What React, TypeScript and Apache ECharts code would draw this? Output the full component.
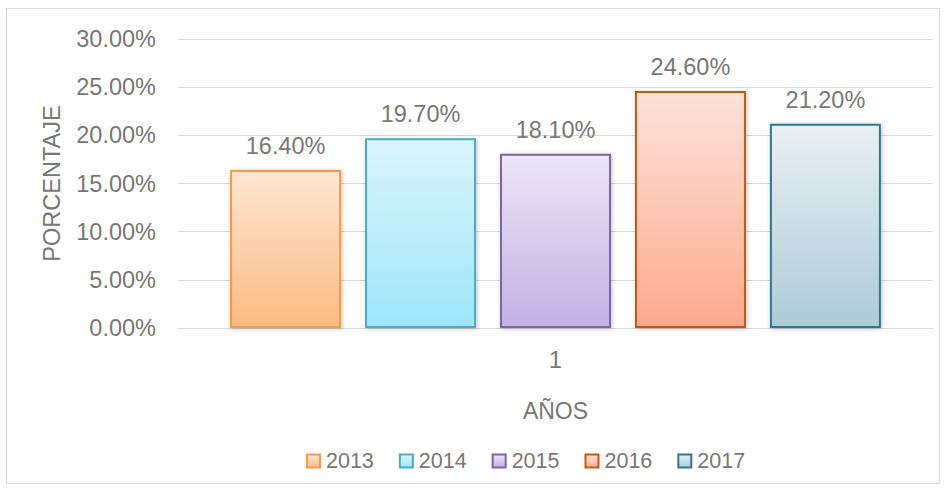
import React, { useEffect, useRef } from "react";
import * as echarts from "echarts";

const categories = ["1"];
const years = ["2013", "2014", "2015", "2016", "2017"];
const values = [0.164, 0.197, 0.181, 0.246, 0.212];
const yTicks = { min: 0, max: 0.3, interval: 0.05 };

const topColors = ["#fde6d4", "#dcf5fc", "#ede6f6", "#fde3dc", "#e9f0f5"];
const bottomColors = ["#fbbb82", "#9ee6fa", "#c3b0e3", "#fcaa8f", "#adcbd6"];
const borderColors = ["#f59a48", "#4bacc6", "#8064a2", "#c55a11", "#31788c"];

const FONT = "Liberation Sans, Arial, sans-serif";
const TEXT = "#777777";

export default function App() {
  const ref = useRef<HTMLDivElement>(null);
  useEffect(() => {
    if (!ref.current) return;
    const chart = echarts.init(ref.current, undefined, { renderer: "svg" });
    chart.setOption({
      animation: false,
      backgroundColor: "#ffffff",
      textStyle: { fontFamily: FONT },
      graphic: [
        {
          type: "rect",
          shape: { x: 6.5, y: 8.5, width: 933, height: 475 },
          style: { fill: "none", stroke: "#d9d9d9", lineWidth: 1 },
          silent: true,
          z: -1,
        },
      ],
      grid: { left: 178, right: 16, top: 39, bottom: 160 },
      legend: {
        top: 445,
        left: 301,
        itemWidth: 13,
        itemHeight: 13,
        itemGap: 25,
        icon: "rect",
        textStyle: {
          fontFamily: FONT,
          fontSize: 21.5,
          color: TEXT,
          padding: [0, 0, 0, 1],
        },
        data: years,
      },
      xAxis: {
        type: "category",
        data: categories,
        axisLine: { lineStyle: { color: "#d9d9d9", width: 1 } },
        axisTick: { show: false },
        axisLabel: { fontFamily: FONT, fontSize: 24, color: TEXT, margin: 19 },
        name: "AÑOS",
        nameLocation: "middle",
        nameGap: 71,
        nameTextStyle: { fontFamily: FONT, fontSize: 23, color: TEXT },
      },
      yAxis: {
        type: "value",
        min: yTicks.min,
        max: yTicks.max,
        interval: yTicks.interval,
        axisLine: { show: false },
        axisTick: { show: false },
        splitLine: { lineStyle: { color: "#d9d9d9", width: 1 } },
        axisLabel: {
          fontFamily: FONT,
          fontSize: 23.5,
          color: TEXT,
          margin: 22,
          formatter: (v: number) => (v * 100).toFixed(2) + "%",
        },
        name: "PORCENTAJE",
        nameLocation: "middle",
        nameRotate: 90,
        nameGap: 114,
        nameTextStyle: { fontFamily: FONT, fontSize: 23.5, color: TEXT },
      },
      series: years.map((y, i) => ({
        name: y,
        type: "bar",
        data: [values[i]],
        barCategoryGap: "13.8%",
        barGap: "21.6%",
        itemStyle: {
          color: new echarts.graphic.LinearGradient(0, 0, 0, 1, [
            { offset: 0, color: topColors[i] },
            { offset: 1, color: bottomColors[i] },
          ]),
          borderColor: borderColors[i],
          borderWidth: 2,
          shadowBlur: 4,
          shadowColor: "rgba(0,0,0,0.25)",
          shadowOffsetX: 1,
          shadowOffsetY: 1,
        },
        label: {
          show: true,
          position: "top",
          distance: 12,
          fontFamily: FONT,
          fontSize: 23.5,
          color: TEXT,
          formatter: (p: any) => (p.value * 100).toFixed(2) + "%",
        },
      })),
    });
    return () => chart.dispose();
  }, []);
  return (
    <div
      ref={ref}
      style={{ position: "absolute", left: 0, top: 0, width: 949, height: 488 }}
    />
  );
}
